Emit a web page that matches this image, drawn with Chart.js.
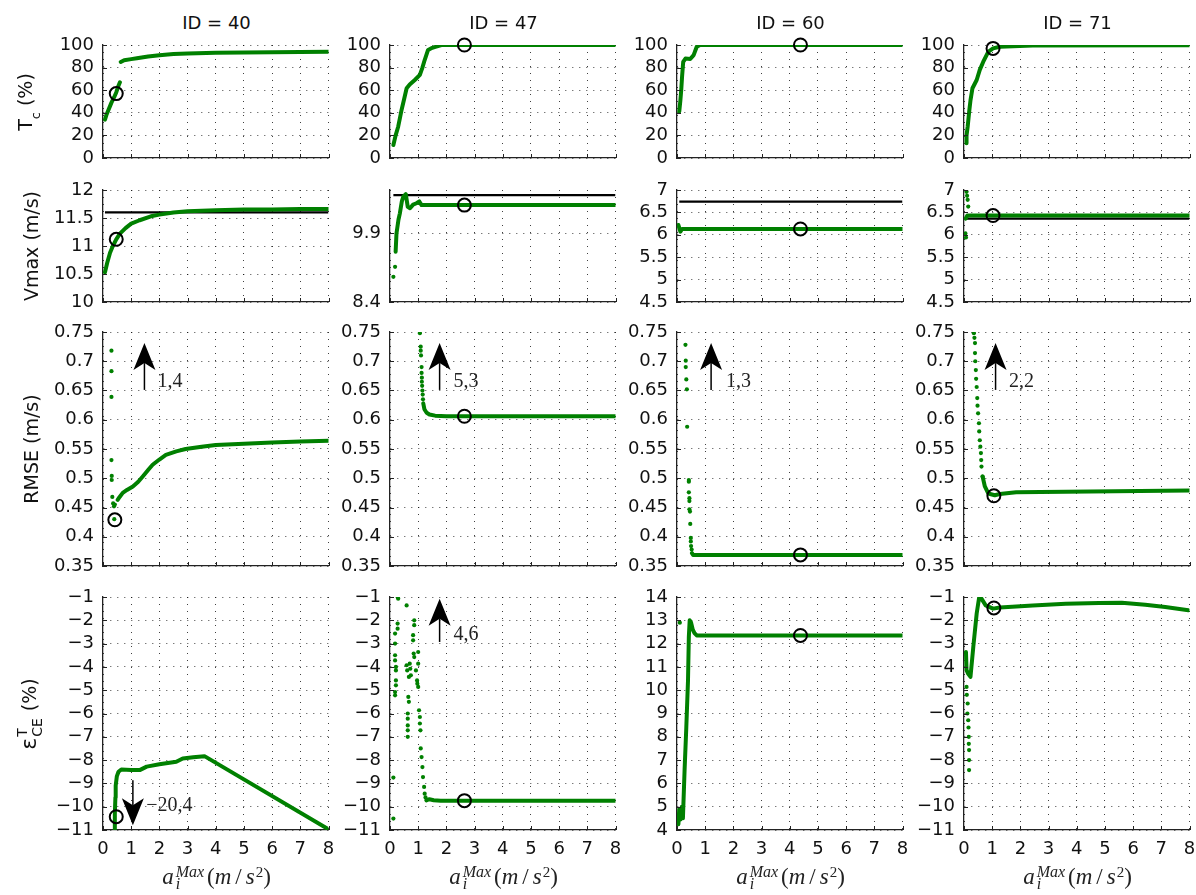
<!DOCTYPE html>
<html><head><meta charset="utf-8">
<script src="https://cdn.jsdelivr.net/npm/chart.js@4.4.0/dist/chart.umd.min.js"></script>
<style>
html,body{margin:0;padding:0;background:#fff;overflow:hidden;}
#fig{position:relative;width:1196px;height:895px;overflow:hidden;background:#fff;font-family:'DejaVu Sans',sans-serif;color:#111;}
#fig canvas{position:absolute;}
.ct{position:absolute;top:14px;font-size:18px;line-height:1;white-space:nowrap;transform:translateX(-50%);}
.yt{position:absolute;font-size:19px;line-height:1;white-space:nowrap;transform:translate(-50%,-50%) rotate(-90deg);}
.yt .sb{font-size:13px;vertical-align:-8px;}
.yt .eps{font-size:22px;}
.yt .stk{display:inline-flex;flex-direction:column;font-size:14px;line-height:15px;vertical-align:9px;margin:0 1px;}
.xt{position:absolute;top:865px;font-family:'Liberation Serif',serif;font-size:23px;line-height:1;white-space:nowrap;transform:translateX(-50%);color:#222;}
.xt .ms{display:inline-flex;flex-direction:column;font-size:16px;line-height:12px;vertical-align:7px;margin:0 3px 0 2px;font-style:italic;}
.xt .sl{margin:0 4px;}
.xt .sq{font-size:15px;vertical-align:7px;margin-left:1px;}
</style></head><body><div id="fig"></div>
<script>
// ---------------- labels & ticks ----------------
const ids = ['ID = 40', 'ID = 47', 'ID = 60', 'ID = 71'];
const xTicks = [0, 1, 2, 3, 4, 5, 6, 7, 8];
const tcTicks = [0, 20, 40, 60, 80, 100];
const vmaxTicks40 = [10, 10.5, 11, 11.5, 12];
const vmaxTicks47 = [8.4, 9.9];
const vmaxTicks60 = [4.5, 5, 5.5, 6, 6.5, 7];
const vmaxTicks71 = [4.5, 5, 5.5, 6, 6.5, 7];
const vmaxRange47 = [8.4, 10.85];
const rmseTicks = [0.35, 0.4, 0.45, 0.5, 0.55, 0.6, 0.65, 0.7, 0.75];
const errTicksNeg = [-11, -10, -9, -8, -7, -6, -5, -4, -3, -2, -1];
const errTicks60 = [4, 5, 6, 7, 8, 9, 10, 11, 12, 13, 14];

// ---------------- ID 40 ----------------
const tc40Curve = [[0.07,34],[0.12,38],[0.2,43],[0.3,49],[0.4,54],[0.47,58],[0.55,64],[0.6,67],[0.62,null],[0.63,85],[0.75,86.5],[1,87.5],[1.2,88.3],[1.6,89.8],[2,91],[2.5,92],[3,92.5],[4,93.1],[5,93.4],[6,93.6],[7,93.8],[8,94]];
const tc40Mark = [0.47, 57];
const vmax40Curve = [[0.07,10.53],[0.15,10.7],[0.25,10.88],[0.35,11.0],[0.47,11.12],[0.6,11.22],[0.8,11.32],[1.0,11.4],[1.3,11.46],[1.7,11.53],[2.0,11.56],[2.5,11.6],[3,11.62],[4,11.64],[5,11.65],[6,11.65],[7,11.66],[8,11.66]];
const vmax40Ref = [[0.07,11.6],[8,11.6]];
const vmax40Mark = [0.47, 11.12];
const rmse40Dots = [[0.3,0.718],[0.3,0.683],[0.3,0.639],[0.3,0.531],[0.31,0.504],[0.31,0.497],[0.33,0.468],[0.36,0.457],[0.39,0.452],[0.42,0.455],[0.4,0.43]];
const rmse40Curve = [[0.52,0.463],[0.59,0.468],[0.7,0.475],[0.85,0.48],[1.06,0.486],[1.25,0.494],[1.41,0.503],[1.6,0.514],[1.76,0.523],[2.0,0.532],[2.23,0.54],[2.6,0.546],[2.93,0.55],[3.5,0.554],[4,0.557],[5,0.559],[6,0.561],[7,0.563],[8,0.564]];
const rmse40Mark = [0.42, 0.429];
const rmse40Arrow = {x: 1.47, from: 0.651, to: 0.731, text: '1,4', tx: 1.93, ty: 0.656};
const err40Curve = [[0.41,-11],[0.42,-10.3],[0.44,-9.6],[0.45,-9.1],[0.49,-8.7],[0.55,-8.5],[0.65,-8.4],[1.0,-8.42],[1.3,-8.43],[1.55,-8.28],[2.0,-8.18],[2.6,-8.07],[2.83,-7.93],[3.2,-7.88],[3.6,-7.83],[8,-10.97]];
const err40Mark = [0.47, -10.43];
const err40Arrow = {x: 1.06, from: -8.87, to: -10.8, text: '\u221220,4', tx: 1.53, ty: -10.2};

// ---------------- ID 47 ----------------
const tc47Curve = [[0.12,11.5],[0.2,20],[0.29,27.7],[0.35,35],[0.41,42.5],[0.5,52],[0.59,61.7],[0.7,65],[0.88,69],[1.06,73.5],[1.15,80],[1.23,86.7],[1.35,95.6],[1.5,97.5],[1.64,98.5],[1.82,100],[8,100]];
const tc47Mark = [2.64, 100];
const vmax47Dots = [[0.12,8.95],[0.18,9.17]];
const vmax47Curve = [[0.2,9.5],[0.23,9.9],[0.3,10.2],[0.35,10.34],[0.42,10.6],[0.47,10.7],[0.56,10.76],[0.63,10.48],[0.71,10.45],[0.82,10.53],[0.94,10.56],[1.04,10.6],[1.12,10.52],[8,10.52]];
const vmax47Ref = [[0.12,10.74],[8,10.74]];
const vmax47Mark = [2.64, 10.52];
const rmse47Dots = [[1.06,0.748],[1.09,0.725],[1.09,0.718],[1.1,0.71],[1.12,0.69],[1.12,0.68],[1.13,0.672],[1.13,0.665],[1.14,0.658],[1.15,0.65],[1.16,0.643],[1.17,0.635]];
const rmse47Curve = [[1.18,0.628],[1.22,0.618],[1.3,0.612],[1.4,0.609],[1.6,0.607],[2,0.606],[8,0.606]];
const rmse47Mark = [2.64, 0.606];
const rmse47Arrow = {x: 1.76, from: 0.651, to: 0.731, text: '5,3', tx: 2.25, ty: 0.656};
const err47Dots = [[0.12,-8.75],[0.12,-10.51],[0.18,-2.57],[0.18,-3.0],[0.18,-3.5],[0.18,-3.72],[0.21,-4.0],[0.21,-4.15],[0.21,-4.58],[0.21,-4.79],[0.18,-5.08],[0.18,-5.22],[0.27,-1.0],[0.29,-1.07],[0.27,-2.14],[0.27,-2.36],
  [0.59,-1.36],[0.59,-3.93],[0.61,-4.15],[0.67,-4.43],[0.65,-5.29],[0.67,-5.5],[0.63,-6.0],[0.63,-6.22],[0.63,-6.51],[0.63,-6.72],[0.63,-7.0],[0.7,-3.86],[0.72,-4.08],[0.74,-4.36],
  [0.86,-2.0],[0.86,-2.21],[0.82,-2.64],[0.82,-2.86],[0.84,-3.43],[0.86,-3.58],[0.92,-4.15],[0.96,-4.58],[1.0,-3.36],[1.0,-3.86],[1.0,-4.86],[0.97,-4.72],
  [1.03,-5.86],[1.06,-6.15],[1.06,-6.43],[1.08,-6.72],[1.09,-7.5],[1.12,-7.87],[1.15,-8.3],[1.17,-8.73],[1.21,-9.15],[1.23,-9.44],[1.26,-9.6]];
const err47Curve = [[1.29,-9.73],[1.4,-9.68],[1.55,-9.72],[1.8,-9.74],[8,-9.74]];
const err47Mark = [2.64, -9.74];
const err47Arrow = {x: 1.76, from: -2.93, to: -1.07, text: '4,6', tx: 2.25, ty: -2.86};

// ---------------- ID 60 ----------------
const tc60Curve = [[0.08,41],[0.12,51],[0.15,60],[0.18,72],[0.22,85],[0.3,88],[0.47,87.6],[0.59,91],[0.7,98.5],[0.82,100],[8,100]];
const tc60Mark = [4.38, 100];
const vmax60Curve = [[0.05,6.22],[0.12,6.07],[0.18,6.13],[8,6.13]];
const vmax60Ref = [[0.08,6.74],[8,6.74]];
const vmax60Mark = [4.38, 6.13];
const rmse60Dots = [[0.3,0.728],[0.31,0.701],[0.31,0.69],[0.33,0.669],[0.35,0.652],[0.36,0.588],[0.42,0.497],[0.42,0.494],[0.42,0.476],[0.44,0.466],[0.44,0.461],[0.44,0.447],[0.46,0.443],[0.47,0.422],[0.49,0.398],[0.49,0.392],[0.5,0.384],[0.52,0.378]];
const rmse60Curve = [[0.53,0.372],[0.57,0.369],[8,0.369]];
const rmse60Mark = [4.38, 0.369];
const rmse60Arrow = {x: 1.21, from: 0.651, to: 0.731, text: '1,3', tx: 1.74, ty: 0.656};
const err60Dots = [[0.1,12.9]];
const err60Curve = [[0.05,4.25],[0.08,4.9],[0.12,4.45],[0.17,5.0],[0.21,4.5],[0.27,6.6],[0.33,8.4],[0.39,10.4],[0.42,12.3],[0.45,13.0],[0.5,12.9],[0.56,12.6],[0.62,12.45],[0.7,12.35],[8,12.35]];
const err60Mark = [4.38, 12.35];

// ---------------- ID 71 ----------------
const tc71Curve = [[0.09,13],[0.09,20],[0.13,27.7],[0.19,42.5],[0.23,51],[0.3,61.7],[0.45,69],[0.56,78],[0.68,85],[0.86,94],[1.03,97],[1.27,98.5],[2.44,99.5],[8,99.7]];
const tc71Mark = [1.03, 97];
const vmax71Dots = [[0.09,6.96],[0.11,6.87],[0.13,6.78],[0.15,6.63],[0.05,6.03],[0.07,5.94]];
const vmax71Curve = [[0.06,6.36],[0.12,6.43],[8,6.43]];
const vmax71Ref = [[0.06,6.36],[8,6.36]];
const vmax71Mark = [1.03, 6.43];
const rmse71Dots = [[0.35,0.748],[0.37,0.74],[0.39,0.731],[0.39,0.714],[0.4,0.7],[0.42,0.685],[0.43,0.67],[0.45,0.656],[0.47,0.637],[0.48,0.624],[0.5,0.611],[0.53,0.594],[0.54,0.58],[0.56,0.565],[0.58,0.554],[0.6,0.543],[0.61,0.531],[0.62,0.52],[0.66,0.503]];
const rmse71Curve = [[0.66,0.503],[0.74,0.486],[0.86,0.474],[1.09,0.471],[1.27,0.473],[1.85,0.476],[3.6,0.477],[8,0.479]];
const rmse71Mark = [1.06, 0.47];
const rmse71Arrow = {x: 1.12, from: 0.651, to: 0.731, text: '2,2', tx: 1.6, ty: 0.656};
const err71Dots = [[0.09,-4.86],[0.1,-5.2],[0.12,-6.0],[0.13,-5.57],[0.15,-6.29],[0.16,-6.6],[0.17,-7.0],[0.17,-7.3],[0.18,-7.57],[0.18,-8.0],[0.18,-8.43]];
const err71Curve = [[0.07,-3.36],[0.09,-4.14],[0.15,-4.3],[0.23,-4.43],[0.33,-3.14],[0.45,-1.71],[0.54,-1.0],[0.62,-1.07],[0.77,-1.36],[1.03,-1.5],[1.27,-1.45],[2.44,-1.36],[3.61,-1.29],[4.79,-1.26],[5.6,-1.25],[6.43,-1.33],[7.14,-1.43],[7.96,-1.57]];
const err71Mark = [1.06, -1.47];

// ---------------- panels ----------------
const panels = [
  {r:0,c:0,ticks:tcTicks,curve:tc40Curve,mark:tc40Mark},
  {r:0,c:1,ticks:tcTicks,curve:tc47Curve,mark:tc47Mark},
  {r:0,c:2,ticks:tcTicks,curve:tc60Curve,mark:tc60Mark},
  {r:0,c:3,ticks:tcTicks,curve:tc71Curve,mark:tc71Mark},
  {r:1,c:0,ticks:vmaxTicks40,curve:vmax40Curve,ref:vmax40Ref,mark:vmax40Mark},
  {r:1,c:1,ticks:vmaxTicks47,range:vmaxRange47,dots:vmax47Dots,curve:vmax47Curve,ref:vmax47Ref,mark:vmax47Mark},
  {r:1,c:2,ticks:vmaxTicks60,curve:vmax60Curve,ref:vmax60Ref,mark:vmax60Mark},
  {r:1,c:3,ticks:vmaxTicks71,dots:vmax71Dots,curve:vmax71Curve,ref:vmax71Ref,mark:vmax71Mark},
  {r:2,c:0,ticks:rmseTicks,dots:rmse40Dots,curve:rmse40Curve,mark:rmse40Mark,arrow:rmse40Arrow},
  {r:2,c:1,ticks:rmseTicks,dots:rmse47Dots,curve:rmse47Curve,mark:rmse47Mark,arrow:rmse47Arrow},
  {r:2,c:2,ticks:rmseTicks,dots:rmse60Dots,curve:rmse60Curve,mark:rmse60Mark,arrow:rmse60Arrow},
  {r:2,c:3,ticks:rmseTicks,dots:rmse71Dots,curve:rmse71Curve,mark:rmse71Mark,arrow:rmse71Arrow},
  {r:3,c:0,ticks:errTicksNeg,curve:err40Curve,mark:err40Mark,arrow:err40Arrow},
  {r:3,c:1,ticks:errTicksNeg,dots:err47Dots,curve:err47Curve,mark:err47Mark,arrow:err47Arrow},
  {r:3,c:2,ticks:errTicks60,dots:err60Dots,curve:err60Curve,mark:err60Mark},
  {r:3,c:3,ticks:errTicksNeg,dots:err71Dots,curve:err71Curve,mark:err71Mark}
];

// ---------------- layout & style ----------------
const GREEN = '#008000';
const colLeft = [103, 390, 677, 964];
const rowTop = [45, 190, 332, 597];
const rowH = [113, 112, 234, 233];
const PLOT_W = 227, LEFT = 62, RIGHT = 7, TOP = 12;
const TICK_FONT = {family: "'DejaVu Sans', sans-serif", size: 18};
const GRID_COLOR = 'rgba(0,0,0,0.75)';

function fmt(v) {
  const r = Math.round(v * 1000) / 1000;
  return r < 0 ? '\u2212' + String(-r) : String(r);
}
const pt = a => ({x: a[0], y: a[1]});

const decor = {
  id: 'decor',
  afterDatasetsDraw(chart, args, opts) {
    const ctx = chart.ctx, xs = chart.scales.x, ys = chart.scales.y, a = chart.chartArea;
    ctx.save();
    ctx.strokeStyle = '#222';
    ctx.lineWidth = 1;
    xs.ticks.forEach(t => {
      const p = Math.round(xs.getPixelForValue(t.value)) + 0.5;
      ctx.beginPath(); ctx.moveTo(p, a.bottom); ctx.lineTo(p, a.bottom - 4); ctx.stroke();
    });
    ys.ticks.forEach(t => {
      const p = Math.round(ys.getPixelForValue(t.value)) + 0.5;
      ctx.beginPath(); ctx.moveTo(a.left, p); ctx.lineTo(a.left + 4, p); ctx.stroke();
    });
    ctx.restore();
    const ar = opts.arrow;
    if (ar) {
      const px = xs.getPixelForValue(ar.x);
      const p0 = ys.getPixelForValue(ar.from), p1 = ys.getPixelForValue(ar.to);
      const d = p1 > p0 ? 1 : -1;
      ctx.save();
      ctx.strokeStyle = '#000'; ctx.fillStyle = '#000'; ctx.lineWidth = 1.5;
      ctx.beginPath(); ctx.moveTo(px, p0); ctx.lineTo(px, p1 - d * 20); ctx.stroke();
      ctx.beginPath();
      ctx.moveTo(px, p1);
      ctx.lineTo(px - 11, p1 - d * 27);
      ctx.lineTo(px, p1 - d * 20);
      ctx.lineTo(px + 11, p1 - d * 27);
      ctx.closePath(); ctx.fill();
      ctx.fillStyle = '#222';
      ctx.font = "20px 'Liberation Serif', serif";
      ctx.textAlign = 'left'; ctx.textBaseline = 'alphabetic';
      ctx.fillText(ar.text, xs.getPixelForValue(ar.tx), ys.getPixelForValue(ar.ty));
      ctx.restore();
    }
  }
};

const fig = document.getElementById('fig');

panels.forEach(p => {
  const bottomH = p.r === 3 ? 38 : 12;
  const cv = document.createElement('canvas');
  const w = LEFT + PLOT_W + RIGHT, h = TOP + rowH[p.r] + bottomH;
  cv.width = w; cv.height = h;
  cv.style.width = w + 'px'; cv.style.height = h + 'px';
  cv.style.left = (colLeft[p.c] - LEFT) + 'px';
  cv.style.top = (rowTop[p.r] - TOP) + 'px';
  fig.appendChild(cv);

  const datasets = [];
  if (p.mark) datasets.push({data: [pt(p.mark)], showLine: false, pointRadius: 6.5, pointBorderWidth: 2,
    pointBorderColor: '#000', pointBackgroundColor: 'rgba(0,0,0,0)', clip: false});
  if (p.dots) datasets.push({data: p.dots.map(pt), showLine: false, pointRadius: 2.1, pointBorderWidth: 0,
    pointBackgroundColor: GREEN, pointBorderColor: GREEN});
  if (p.curve) datasets.push({data: p.curve.map(pt), showLine: true, borderColor: GREEN, borderWidth: 4,
    pointRadius: 0, spanGaps: false, borderCapStyle: 'round', borderJoinStyle: 'round', tension: 0});
  if (p.ref) datasets.push({data: p.ref.map(pt), showLine: true, borderColor: '#000', borderWidth: 2.2,
    pointRadius: 0, tension: 0});

  const yMin = p.range ? p.range[0] : p.ticks[0];
  const yMax = p.range ? p.range[1] : p.ticks[p.ticks.length - 1];

  new Chart(cv, {
    type: 'scatter',
    data: {datasets},
    options: {
      responsive: false, animation: false, events: [], devicePixelRatio: 1,
      layout: {padding: {left: 0, top: TOP, right: RIGHT, bottom: 0}},
      plugins: {legend: {display: false}, tooltip: {enabled: false}, decor: {arrow: p.arrow || null}},
      scales: {
        x: {
          type: 'linear', min: 0, max: 8,
          afterBuildTicks: s => { s.ticks = xTicks.map(v => ({value: v})); },
          afterFit: s => { s.height = bottomH; s.paddingLeft = 0; s.paddingRight = 0; s.paddingTop = 0; s.paddingBottom = 0; },
          ticks: {display: p.r === 3, font: TICK_FONT, color: '#111', padding: 9, maxRotation: 0, autoSkip: false, callback: v => fmt(v)},
          grid: {color: GRID_COLOR, lineWidth: 1, drawTicks: false},
          border: {display: true, color: '#222', width: 1.3, dash: [1, 6]}
        },
        y: {
          type: 'linear', min: yMin, max: yMax,
          afterBuildTicks: s => { s.ticks = p.ticks.map(v => ({value: v})); },
          afterFit: s => { s.width = LEFT; s.paddingLeft = 0; s.paddingRight = 0; s.paddingTop = 0; s.paddingBottom = 0; },
          ticks: {font: TICK_FONT, color: '#111', padding: 9, autoSkip: false, callback: v => fmt(v)},
          grid: {color: GRID_COLOR, lineWidth: 1, drawTicks: false},
          border: {display: true, color: '#222', width: 1.3, dash: [1, 6]}
        }
      }
    },
    plugins: [decor]
  });
});

// ---------------- titles ----------------
ids.forEach((t, c) => {
  const d = document.createElement('div');
  d.className = 'ct';
  d.textContent = t;
  d.style.left = (colLeft[c] + PLOT_W / 2) + 'px';
  fig.appendChild(d);

  const x = document.createElement('div');
  x.className = 'xt';
  x.style.left = (colLeft[c] + PLOT_W / 2) + 'px';
  x.innerHTML = '<i>a</i><span class="ms"><span>Max</span><span>i</span></span>(<i>m</i><span class="sl">/</span><i>s</i><span class="sq">2</span>)';
  fig.appendChild(x);
});

const yTitles = [
  {html: 'T<span class="sb">c</span> (%)', cx: 29},
  {html: 'Vmax (m/s)', cx: 31},
  {html: 'RMSE (m/s)', cx: 31},
  {html: '<span class="eps">\u03b5</span><span class="stk"><span>T</span><span>CE</span></span> (%)', cx: 30}
];
yTitles.forEach((t, r) => {
  const d = document.createElement('div');
  d.className = 'yt';
  d.innerHTML = t.html;
  d.style.left = t.cx + 'px';
  d.style.top = (rowTop[r] + rowH[r] / 2) + 'px';
  fig.appendChild(d);
});
</script></body></html>
